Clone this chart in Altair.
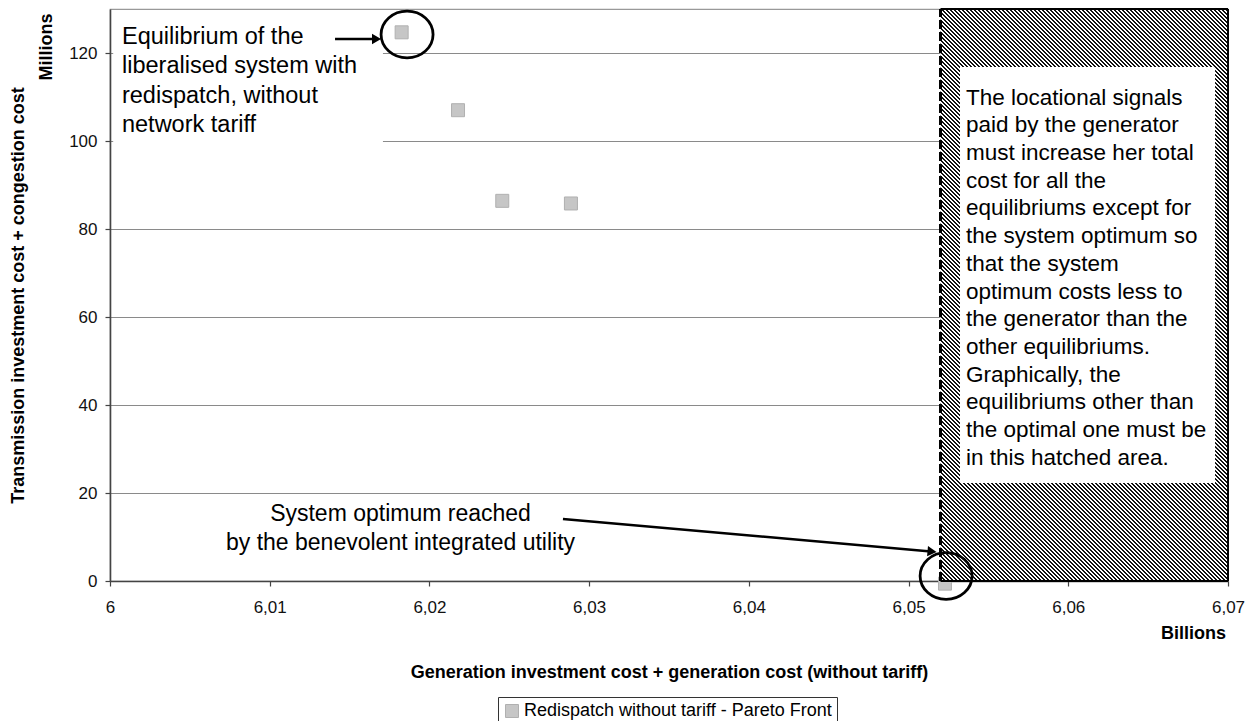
import altair as alt
import pandas as pd

# ---------------- data ----------------
SERIES = "Redispatch without tariff - Pareto Front"
gen_cost = [6.01826, 6.02179, 6.02456, 6.02886, 6.05228]      # billions
trans_cost = [124.7, 107.0, 86.4, 85.8, -0.6]                  # millions

x_ticks = [6.0, 6.01, 6.02, 6.03, 6.04, 6.05, 6.06, 6.07]
y_ticks = [0, 20, 40, 60, 80, 100, 120]
x_domain = [6.0, 6.07]
y_domain = [0, 130]

x_title = "Generation investment cost + generation cost (without tariff)"
y_title = "Transmission investment cost + congestion cost"
x_unit = "Billions"
y_unit = "Millions"

note_eq = ["Equilibrium of the", "liberalised system with",
           "redispatch, without", "network tariff"]
note_opt = ["System optimum reached", "by the benevolent integrated utility"]
note_hatch = ["The locational signals", "paid by the generator",
              "must increase her total", "cost for all the",
              "equilibriums except for", "the system optimum so",
              "that the system", "optimum costs less to",
              "the generator than the", "other equilibriums.",
              "Graphically, the", "equilibriums other than",
              "the optimal one must be", "in this hatched area."]

# annotation geometry (data units)
hatch_x = [6.052, 6.07]
hatch_y = [0, 130]
hatch_box_x = [6.05322, 6.06919]
hatch_box_y = [22.3, 116.8]
eq_box_x = [6.0002, 6.01709]
eq_box_y = [98.5, 129.8]
circle_x = [6.0186, 6.05235]
circle_y = [124.2, 1.14]
arrow_x = [6.01409, 6.02836]
arrow_y = [123.18, 14.09]
arrow_x2 = [6.01647, 6.05122]
arrow_y2 = [123.18, 6.77]
head_x = [6.01669, 6.05147]
head_y = [123.18, 6.70]
head_angle = [0, 5]
note_eq_at = (6.00075, 126.3)
note_opt_at = (6.01819, 17.66)
note_hatch_at = (6.0536, 112.36)

FONT = "Liberation Sans"
PLOT_W, PLOT_H = 1118, 572

xs = alt.Scale(domain=x_domain, nice=False, zero=False)
ys = alt.Scale(domain=y_domain, nice=False, zero=False)

x_axis = alt.Axis(
    values=x_ticks, title=x_title, grid=False,
    labelExpr="replace(format(datum.value, '.2~f'), '.', ',')",
    labelFontSize=17, labelColor="#111", labelPadding=13, labelFlush=False,
    tickSize=5, tickColor="#444", tickWidth=1.2,
    domainColor="#444", domainWidth=1.6,
    titleFontSize=18, titleFontWeight="bold", titleColor="#000",
    titleY=91, titleBaseline="middle")
y_axis = alt.Axis(
    values=y_ticks, title=y_title, grid=True, gridColor="#8a8a8a", gridWidth=1.2,
    labelFontSize=17, labelColor="#111", labelPadding=8,
    tickSize=5, tickColor="#444", tickWidth=1.2,
    domainColor="#444", domainWidth=1.6,
    titleFontSize=18, titleFontWeight="bold", titleColor="#000",
    titleX=-92, titleY=PLOT_H / 2, titleBaseline="middle", titleAngle=270)


def X(f="x"):
    return alt.X(f"{f}:Q", scale=xs, axis=x_axis)


def Y(f="y"):
    return alt.Y(f"{f}:Q", scale=ys, axis=y_axis)


# ---------------- points with legend ----------------
pts = pd.DataFrame({"x": gen_cost, "y": trans_cost, "series": [SERIES] * len(gen_cost)})
points = alt.Chart(pts).mark_point(
    shape="square", filled=True, size=169, opacity=1, stroke="#b0b0b0", strokeWidth=1
).encode(
    x=X(), y=Y(),
    color=alt.Color("series:N", scale=alt.Scale(domain=[SERIES], range=["#c6c6c6"]),
                    legend=alt.Legend(
                        orient="none", legendX=388, legendY=688, title=None,
                        strokeColor="#333", padding=5, symbolType="square",
                        symbolSize=169, symbolStrokeColor="#b0b0b0", symbolStrokeWidth=1,
                        labelFontSize=18, labelFont=FONT, labelColor="#000",
                        labelOffset=3, labelLimit=600)),
)

# ---------------- white box behind top-left note ----------------
eq_box = alt.Chart(pd.DataFrame({"x": [eq_box_x[0]], "x2": [eq_box_x[1]],
                                 "y": [eq_box_y[0]], "y2": [eq_box_y[1]]})).mark_rect(
    fill="white").encode(x=X(), x2="x2:Q", y=Y(), y2="y2:Q")

# ---------------- hatched area ----------------
W = (hatch_x[1] - hatch_x[0]) / (x_domain[1] - x_domain[0]) * PLOT_W
H = (hatch_y[1] - hatch_y[0]) / (y_domain[1] - y_domain[0]) * PLOT_H
k = (W + H) / (W * W + H * H)
period = 4.0
black = 0.4
n_per = int((W + H) / period) + 1
stops = []
for i in range(n_per):
    o0 = min(1.0, i * period / (W + H))
    o1 = min(1.0, (i + black) * period / (W + H))
    o2 = min(1.0, (i + 1) * period / (W + H))
    stops += [
        {"offset": round(o0, 6), "color": "#111111"},
        {"offset": round(o1, 6), "color": "#111111"},
        {"offset": round(o1, 6), "color": "#ffffff"},
        {"offset": round(o2, 6), "color": "#ffffff"},
    ]
hatch_fill = {"gradient": "linear", "x1": 0, "y1": 1, "x2": k * W, "y2": 1 - k * H,
              "stops": stops}

hatch = alt.Chart(pd.DataFrame({"x": [hatch_x[0]], "x2": [hatch_x[1]],
                                "y": [hatch_y[0]], "y2": [hatch_y[1]]})).mark_rect(
    fill=hatch_fill).encode(x=X(), x2="x2:Q", y=Y(), y2="y2:Q")

edges = pd.DataFrame({
    "x": [hatch_x[0], hatch_x[1], hatch_x[0]],
    "x2": [hatch_x[1], hatch_x[1], hatch_x[1]],
    "y": [hatch_y[1], hatch_y[0], hatch_y[0]],
    "y2": [hatch_y[1], hatch_y[1], hatch_y[0]],
})
hatch_edges = alt.Chart(edges).mark_rule(color="#000", strokeWidth=2).encode(
    x=X(), x2="x2:Q", y=Y(), y2="y2:Q")
hatch_left = alt.Chart(pd.DataFrame({"x": [hatch_x[0]], "y": [hatch_y[0]],
                                     "y2": [hatch_y[1]]})).mark_rule(
    color="#000", strokeWidth=3, strokeDash=[9, 3]).encode(x=X(), y=Y(), y2="y2:Q")

hatch_box = alt.Chart(pd.DataFrame({"x": [hatch_box_x[0]], "x2": [hatch_box_x[1]],
                                    "y": [hatch_box_y[0]], "y2": [hatch_box_y[1]]})).mark_rect(
    fill="white").encode(x=X(), x2="x2:Q", y=Y(), y2="y2:Q")


# ---------------- notes ----------------
def note(lines, at, align, size, lh):
    df = pd.DataFrame({"x": [at[0]], "y": [at[1]], "t": ["\n".join(lines)]})
    return alt.Chart(df).mark_text(
        align=align, baseline="top", fontSize=size, lineHeight=lh, font=FONT,
        color="#000", lineBreak="\n").encode(x=X(), y=Y(), text="t:N")


t_eq = note(note_eq, note_eq_at, "left", 23.5, 29.2)
t_opt = note(note_opt, note_opt_at, "center", 23, 28.3)
t_hatch = note(note_hatch, note_hatch_at, "left", 22.5, 27.7)

# ---------------- circles and arrows ----------------
ellipse = "M-1,0A1,0.9,0,1,0,1,0A1,0.9,0,1,0,-1,0Z"
circles = alt.Chart(pd.DataFrame({"x": circle_x, "y": circle_y})).mark_point(
    shape=ellipse, size=2704, filled=False, stroke="#000", strokeWidth=2.8, opacity=1
).encode(x=X(), y=Y())

arrows = alt.Chart(pd.DataFrame({"x": arrow_x, "y": arrow_y, "x2": arrow_x2,
                                 "y2": arrow_y2})).mark_rule(
    color="#000", strokeWidth=2.6).encode(x=X(), y=Y(), x2="x2:Q", y2="y2:Q")
heads = alt.Chart(pd.DataFrame({"x": head_x, "y": head_y, "a": head_angle})).mark_point(
    shape="triangle-right", filled=True, size=110, color="#000", opacity=1
).encode(x=X(), y=Y(), angle=alt.Angle("a:Q", scale=None))

# ---------------- unit labels ----------------
units = alt.Chart(pd.DataFrame({"t": [y_unit]})).mark_text(
    angle=270, align="center", baseline="middle", fontSize=18, fontWeight="bold",
    font=FONT, color="#000").encode(x=alt.value(-63), y=alt.value(38), text="t:N")
units_x = alt.Chart(pd.DataFrame({"t": [x_unit]})).mark_text(
    align="right", baseline="middle", fontSize=18, fontWeight="bold",
    font=FONT, color="#000").encode(x=alt.value(1116), y=alt.value(625), text="t:N")

chart = alt.layer(
    points, eq_box, hatch, hatch_edges, hatch_left, hatch_box,
    t_eq, t_opt, t_hatch, circles, arrows, heads, units, units_x
).properties(
    width=PLOT_W, height=PLOT_H,
    autosize=alt.AutoSizeParams(type="none"),
    padding={"left": 102, "top": 1, "right": 20, "bottom": 140},
).configure(font=FONT).configure_view(stroke="#999", strokeWidth=1.2)

chart.save("out.html", embed_options={"renderer": "svg", "actions": False})
